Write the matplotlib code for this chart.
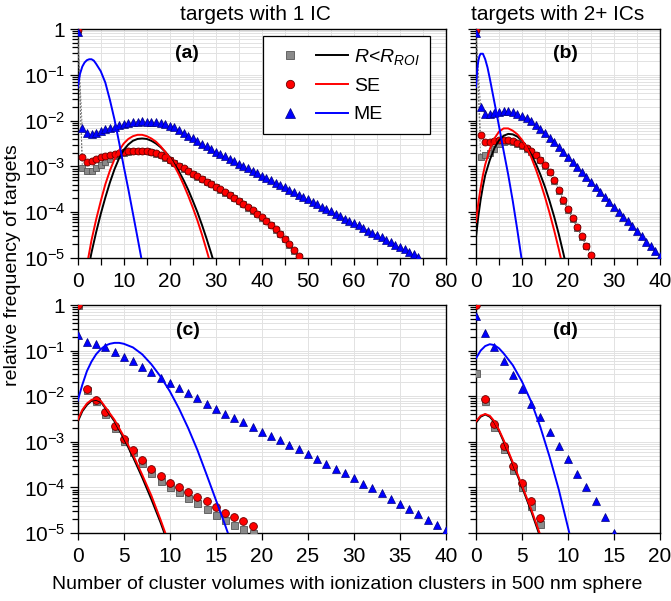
import numpy as np
import matplotlib
matplotlib.use("Agg")
import matplotlib.pyplot as plt
from matplotlib.lines import Line2D
from matplotlib.legend_handler import HandlerTuple
from matplotlib.ticker import MultipleLocator, LogLocator, FuncFormatter, NullFormatter

plt.rcParams['font.family'] = ['Liberation Sans', 'DejaVu Sans']
plt.rcParams['mathtext.fontset'] = 'custom'
plt.rcParams['mathtext.rm'] = 'Liberation Sans'
plt.rcParams['mathtext.it'] = 'Liberation Sans:italic'
plt.rcParams['mathtext.bf'] = 'Liberation Sans:bold'

# ---------------- data (log10 of relative frequency) -------------
# panel (a): targets with 1 IC, 0-80
a_me = [-0.07, -2.17, -2.27, -2.29, -2.26, -2.23, -2.19, -2.16, -2.13, -2.10,
        -2.07, -2.05, -2.03, -2.02, -2.015, -2.02, -2.03, -2.04, -2.06, -2.08,
        -2.11, -2.15, -2.20, -2.26, -2.33, -2.39, -2.45, -2.51, -2.56, -2.62,
        -2.68, -2.73, -2.78, -2.84, -2.89, -2.94, -2.99, -3.04, -3.10, -3.15,
        -3.20, -3.25, -3.30, -3.36, -3.41, -3.46, -3.51, -3.56, -3.62, -3.67,
        -3.72, -3.77, -3.82, -3.88, -3.93, -3.98, -4.03, -4.08, -4.14, -4.19,
        -4.24, -4.29, -4.34, -4.40, -4.45, -4.50, -4.55, -4.60, -4.66, -4.71,
        -4.76, -4.81, -4.86, -4.92, -4.97]
a_se = [-0.02, -2.80, -2.90, -2.88, -2.84, -2.80, -2.77, -2.74, -2.72, -2.70,
        -2.68, -2.67, -2.66, -2.655, -2.655, -2.66, -2.68, -2.71, -2.75, -2.80,
        -2.86, -2.92, -2.98, -3.04, -3.10, -3.16, -3.22, -3.27, -3.33, -3.38,
        -3.44, -3.50, -3.56, -3.62, -3.68, -3.75, -3.82, -3.89, -3.96, -4.03,
        -4.11, -4.19, -4.28, -4.37, -4.47, -4.58, -4.70, -4.83, -4.96]
a_roi = [-0.02, -3.03, -3.09, -3.09, -3.04, -2.97, -2.90, -2.84, -2.78, -2.74,
         -2.71, -2.69, -2.67, -2.665, -2.665, -2.67, -2.69, -2.72, -2.76, -2.81,
         -2.87, -2.93, -2.99, -3.05, -3.11, -3.17, -3.23, -3.28, -3.34, -3.39,
         -3.45, -3.51, -3.57, -3.63, -3.69, -3.76, -3.83, -3.90, -3.97, -4.04,
         -4.12, -4.20, -4.29, -4.38, -4.48, -4.59, -4.71, -4.84, -4.97]
a_roi_fit_x = [2, 3, 4, 5, 6, 7, 8, 9, 10, 11, 12, 13, 14, 15, 16, 17, 18, 19, 20,
               21, 22, 23, 24, 25, 26, 27, 28, 29, 30]
a_roi_fit = [-5.40, -4.88, -4.44, -4.04, -3.68, -3.35, -3.06, -2.82, -2.64, -2.52,
             -2.44, -2.40, -2.39, -2.40, -2.44, -2.50, -2.58, -2.68, -2.80, -2.95,
             -3.11, -3.30, -3.51, -3.75, -4.00, -4.28, -4.58, -4.90, -5.24]
a_se_fit_x = [2, 3, 4, 5, 6, 7, 8, 9, 10, 11, 12, 13, 14, 15, 16, 17, 18, 19, 20,
              21, 22, 23, 24, 25, 26, 27, 28, 29]
a_se_fit = [-5.16, -4.61, -4.16, -3.76, -3.39, -3.09, -2.84, -2.65, -2.50, -2.40,
            -2.34, -2.31, -2.31, -2.34, -2.39, -2.46, -2.56, -2.68, -2.82, -2.99,
            -3.18, -3.40, -3.64, -3.90, -4.18, -4.49, -4.83, -5.18]
a_me_fit_x = [0, 0.5, 1, 1.5, 2, 2.5, 3, 3.5, 4, 5, 6, 7, 8, 9, 10, 11, 12, 13, 14]
a_me_fit = [-1.28, -0.98, -0.82, -0.73, -0.68, -0.66, -0.66, -0.69, -0.76, -0.92,
            -1.17, -1.55, -1.98, -2.48, -3.00, -3.50, -4.03, -4.56, -5.10]

# panel (b): targets with 2+ ICs, 0-40
b_me = [-0.08, -1.70, -1.86, -1.85, -1.83, -1.81, -1.80, -1.80, -1.82, -1.85,
        -1.89, -1.94, -2.01, -2.09, -2.18, -2.27, -2.37, -2.47, -2.58, -2.69,
        -2.80, -2.91, -3.02, -3.12, -3.23, -3.34, -3.45, -3.56, -3.66, -3.77,
        -3.88, -3.99, -4.10, -4.20, -4.31, -4.42, -4.53, -4.64, -4.74, -4.85, -4.96]
b_se = [-0.02, -2.31, -2.47, -2.46, -2.45, -2.43, -2.42, -2.43, -2.45, -2.49,
        -2.54, -2.60, -2.67, -2.75, -2.85, -2.97, -3.12, -3.30, -3.52, -3.74,
        -3.94, -4.13, -4.33, -4.53, -4.73, -4.94]
b_roi = [-0.02, -2.80, -2.76, -2.70, -2.62, -2.52, -2.46, -2.45, -2.46, -2.50,
         -2.55, -2.61, -2.68, -2.76, -2.86, -2.98, -3.13, -3.31, -3.53, -3.75,
         -3.95, -4.14, -4.34, -4.54, -4.74, -4.95]
b_fit_x = [0, 0.5, 1, 1.5, 2, 3, 4, 5, 6, 7, 8, 9, 10, 11, 12, 13, 14, 15, 16, 17,
           18, 19, 20]
b_roi_fit = [-4.54, -4.09, -3.73, -3.44, -3.19, -2.86, -2.60, -2.43, -2.33, -2.29,
             -2.30, -2.35, -2.44, -2.57, -2.74, -2.94, -3.18, -3.45, -3.76, -4.10,
             -4.48, -4.90, -5.35]
b_se_fit = [-4.21, -3.80, -3.47, -3.19, -2.96, -2.62, -2.39, -2.24, -2.17, -2.17,
            -2.22, -2.30, -2.42, -2.58, -2.80, -3.06, -3.35, -3.67, -4.02, -4.40,
            -4.81, -5.25, -5.70]
b_me_fit_x = [0, 0.25, 0.5, 0.75, 1, 1.5, 2, 2.5, 3, 3.5, 4, 5, 6, 7, 8, 9, 10]
b_me_fit = [-1.26, -0.90, -0.70, -0.59, -0.54, -0.54, -0.66, -0.84, -1.08, -1.34,
            -1.60, -2.12, -2.66, -3.18, -3.76, -4.40, -5.08]

# panel (c): targets with 1 IC, 0-40
c_me = [-0.66, -0.82, -0.86, -0.93, -1.04, -1.13, -1.22, -1.35, -1.46, -1.59,
        -1.70, -1.81, -1.94, -2.05, -2.16, -2.27, -2.38, -2.47, -2.57, -2.68,
        -2.78, -2.87, -2.96, -3.07, -3.16, -3.27, -3.38, -3.49, -3.59, -3.69,
        -3.80, -3.93, -4.02, -4.13, -4.26, -4.36, -4.48, -4.58, -4.71, -4.82, -4.93]
c_se = [0.0, -1.84, -2.08, -2.35, -2.65, -2.94, -3.18, -3.40, -3.60, -3.75,
        -3.90, -3.98, -4.09, -4.20, -4.30, -4.42, -4.55, -4.64, -4.73, -4.84]
c_roi = [0.0, -1.86, -2.10, -2.38, -2.69, -2.98, -3.23, -3.46, -3.68, -3.85,
         -4.00, -4.11, -4.23, -4.35, -4.47, -4.61, -4.71, -4.82, -4.92, -5.00]
c_fit_x = [0, 0.5, 1, 1.5, 2, 2.5, 3, 4, 5, 6, 7, 8, 9, 10]
c_roi_fit = [-2.56, -2.33, -2.19, -2.10, -2.08, -2.12, -2.26, -2.55, -2.92, -3.33,
             -3.78, -4.26, -4.77, -5.33]
c_se_fit = [-2.52, -2.30, -2.16, -2.08, -2.06, -2.10, -2.24, -2.52, -2.88, -3.28,
            -3.72, -4.18, -4.71, -5.27]
c_me_fit_x = [0, 0.5, 1, 1.5, 2, 2.5, 3, 3.5, 4, 4.5, 5, 6, 7, 8, 9, 10, 11, 12,
              13, 14, 15, 16, 17]
c_me_fit = [-2.10, -1.75, -1.45, -1.24, -1.08, -0.97, -0.89, -0.85, -0.83, -0.83,
            -0.85, -0.93, -1.08, -1.30, -1.57, -1.89, -2.27, -2.70, -3.18, -3.72,
            -4.27, -4.82, -5.40]

# panel (d): targets with 2+ ICs, 0-20
d_me = [-0.24, -0.62, -0.93, -1.23, -1.54, -1.84, -2.16, -2.46, -2.78, -3.09,
        -3.38, -3.71, -4.00, -4.30, -4.64, -4.99]
d_se = [0.0, -2.07, -2.62, -3.09, -3.53, -3.91, -4.29, -4.66]
d_roi = [-1.50, -2.11, -2.67, -3.16, -3.62, -3.98, -4.40, -4.81]
d_fit_x = [0, 0.5, 1, 1.5, 2, 2.5, 3, 4, 5, 6, 7]
d_roi_fit = [-2.58, -2.45, -2.40, -2.45, -2.57, -2.76, -2.99, -3.48, -3.99, -4.52, -5.10]
d_se_fit = [-2.55, -2.43, -2.39, -2.43, -2.55, -2.74, -2.96, -3.45, -3.96, -4.48, -5.05]
d_me_fit_x = [0, 0.5, 1, 1.5, 2, 2.5, 3, 4, 5, 6, 7, 8, 9, 10, 10.5]
d_me_fit = [-1.17, -1.00, -0.90, -0.86, -0.88, -0.95, -1.06, -1.32, -1.68, -2.12,
            -2.68, -3.33, -4.05, -4.88, -5.30]

legend_labels = [r'$R$<$R_{ROI}$', 'SE', 'ME']
titles = ['targets with 1 IC', 'targets with 2+ ICs']
panel_tags = ['(a)', '(b)', '(c)', '(d)']
xlabel = 'Number of cluster volumes with ionization clusters in 500 nm sphere'
ylabel = 'relative frequency of targets'

# ---------------- styles ----------------
GRAY_F, GRAY_E = '#8a8a8a', '#555555'
RED_F, RED_E = '#ff0000', '#6a0000'
BLUE_F, BLUE_E = '#0000ff', '#000080'
LW = 1.4

def p10(v):
    return np.power(10.0, np.asarray(v, dtype=float))

fig = plt.figure(figsize=(6.71, 6.01), dpi=100)
ax_a = fig.add_axes([0.1158, 0.5707, 0.5489, 0.3810])
ax_b = fig.add_axes([0.7094, 0.5707, 0.2742, 0.3810])
ax_c = fig.add_axes([0.1158, 0.1131, 0.5489, 0.3794])
ax_d = fig.add_axes([0.7094, 0.1131, 0.2742, 0.3794])

def ylab(v, pos):
    e = int(round(np.log10(v)))
    return '1' if e == 0 else r'$10^{%d}$' % e

def style(ax, xmax, major, minor, left_labels):
    ax.set_yscale('log')
    ax.set_ylim(1e-5, 1)
    ax.set_xlim(0, xmax)
    ax.xaxis.set_major_locator(MultipleLocator(major))
    if minor:
        ax.xaxis.set_minor_locator(MultipleLocator(minor))
    ax.yaxis.set_major_locator(LogLocator(base=10, numticks=12))
    ax.yaxis.set_minor_locator(LogLocator(base=10, subs=np.arange(2, 10), numticks=12))
    ax.yaxis.set_minor_formatter(NullFormatter())
    ax.yaxis.set_major_formatter(FuncFormatter(ylab))
    ax.tick_params(axis='both', which='both', direction='out', top=False, right=False,
                   labelsize=15, width=0.9)
    ax.tick_params(axis='x', which='both', length=5, pad=5)
    ax.tick_params(axis='y', which='major', length=6, pad=3)
    ax.tick_params(axis='y', which='minor', length=4)
    if not left_labels:
        ax.tick_params(axis='y', which='both', labelleft=False)
    ax.grid(which='both', color='#e2e2e2', lw=0.7)
    ax.set_axisbelow(True)
    for s in ax.spines.values():
        s.set_linewidth(1.0)

def data(ax, roi, se, me, ms, dashed):
    ls = (0, (2, 2)) if dashed else 'none'
    ax.plot(np.arange(len(roi)), p10(roi), ls=ls, lw=0.6, color='#666666', marker='s',
            ms=ms * 0.9, mfc=GRAY_F, mec=GRAY_E, mew=0.6, zorder=3)
    ax.plot(np.arange(len(se)), p10(se), ls=ls, lw=0.6, color='#666666', marker='o',
            ms=ms, mfc=RED_F, mec=RED_E, mew=0.6, zorder=3.1)
    ax.plot(np.arange(len(me)), p10(me), ls=ls, lw=0.6, color='#666666', marker='^',
            ms=ms * 1.1, mfc=BLUE_F, mec=BLUE_E, mew=0.5, zorder=3.2)

def fits(ax, rx, r, sx, s, mx, m):
    ax.plot(rx, p10(r), color='k', lw=LW, zorder=4)
    ax.plot(sx, p10(s), color='#ff0000', lw=LW, zorder=4.1)
    ax.plot(mx, p10(m), color='#0000ff', lw=LW, zorder=4.2)

style(ax_a, 80, 10, 5, True)
style(ax_b, 40, 10, 5, False)
style(ax_c, 40, 5, None, True)
style(ax_d, 20, 5, None, False)

data(ax_a, a_roi, a_se, a_me, 5.0, True)
fits(ax_a, a_roi_fit_x, a_roi_fit, a_se_fit_x, a_se_fit, a_me_fit_x, a_me_fit)
data(ax_b, b_roi, b_se, b_me, 5.0, True)
fits(ax_b, b_fit_x, b_roi_fit, b_fit_x, b_se_fit, b_me_fit_x, b_me_fit)
data(ax_c, c_roi, c_se, c_me, 5.6, False)
fits(ax_c, c_fit_x, c_roi_fit, c_fit_x, c_se_fit, c_me_fit_x, c_me_fit)
data(ax_d, d_roi, d_se, d_me, 5.6, False)
fits(ax_d, d_fit_x, d_roi_fit, d_fit_x, d_se_fit, d_me_fit_x, d_me_fit)

for ax, tag, tx, ty in [(ax_a, panel_tags[0], 0.297, 0.895), (ax_b, panel_tags[1], 0.484, 0.895),
                        (ax_c, panel_tags[2], 0.300, 0.890), (ax_d, panel_tags[3], 0.484, 0.890)]:
    ax.text(tx, ty, tag, transform=ax.transAxes, ha='center', va='center',
            fontsize=14, fontweight='bold', zorder=6)

# legend: marker + line for each model
h_roi = (Line2D([], [], ls='none', marker='s', ms=5.5, mfc=GRAY_F, mec=GRAY_E, mew=0.6),
         Line2D([], [], color='k', lw=LW))
h_se = (Line2D([], [], ls='none', marker='o', ms=6, mfc=RED_F, mec=RED_E, mew=0.6),
        Line2D([], [], color='#ff0000', lw=LW))
h_me = (Line2D([], [], ls='none', marker='^', ms=6.5, mfc=BLUE_F, mec=BLUE_E, mew=0.5),
        Line2D([], [], color='#0000ff', lw=LW))
leg = ax_a.legend([h_roi, h_se, h_me], legend_labels,
                  handler_map={tuple: HandlerTuple(ndivide=None, pad=0.5)},
                  loc='upper right', bbox_to_anchor=(0.957, 0.969), borderaxespad=0,
                  handlelength=3.8, handletextpad=0.3, borderpad=0.55, labelspacing=0.55,
                  fontsize=14, frameon=True, fancybox=False, framealpha=1, edgecolor='k')
leg.get_frame().set_linewidth(0.9)
leg.set_zorder(7)

fig.text(255 / 671, 1 - 15 / 601, titles[0], ha='center', va='center', fontsize=15)
fig.text(558 / 671, 1 - 15 / 601, titles[1], ha='center', va='center', fontsize=15)
fig.text(0.018, 0.559, ylabel, rotation=90, ha='center', va='center', fontsize=14)
fig.text(0.518, 0.027, xlabel, ha='center', va='center', fontsize=14)

fig.savefig('out.png', dpi=100)
